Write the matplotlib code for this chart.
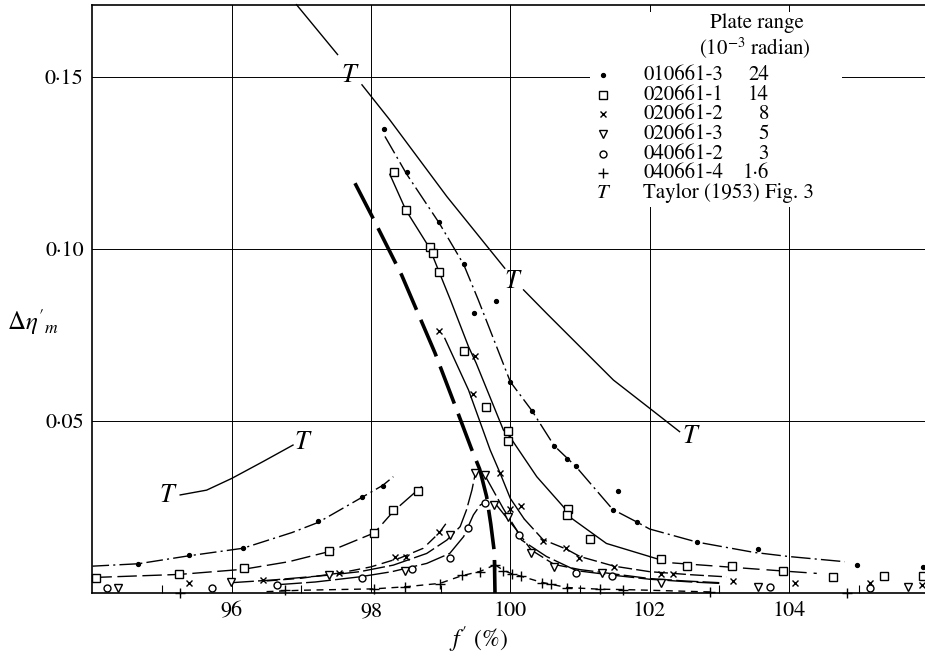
import matplotlib.pyplot as plt
from matplotlib.patches import Rectangle
from matplotlib.lines import Line2D

plt.rcParams['font.family'] = 'STIXGeneral'
plt.rcParams['mathtext.fontset'] = 'stix'

# measured points, f' (%) against delta eta'_m
x_010661_3 = [94.66, 95.38, 96.16, 97.24, 97.87, 98.17, 98.19, 98.51, 98.98, 99.33, 99.48, 99.80,
              100.00, 100.31, 100.63, 100.81, 100.94, 101.47, 101.54, 101.82, 102.68, 103.56, 104.98, 105.92]
y_010661_3 = [0.0083, 0.0110, 0.0130, 0.0210, 0.0280, 0.0311, 0.1349, 0.1223, 0.1078, 0.0956, 0.0813, 0.0849,
              0.0614, 0.0530, 0.0428, 0.0389, 0.0370, 0.0241, 0.0297, 0.0206, 0.0148, 0.0128, 0.0081, 0.0075]

x_020661_1 = [94.05, 95.25, 96.17, 97.39, 98.05, 98.32, 98.68, 98.33, 98.50, 98.84, 98.89, 98.98, 99.34,
              99.65, 99.97, 99.97, 100.83, 100.82, 101.14, 102.16, 102.53, 103.19, 103.91, 104.64, 105.36, 105.92]
y_020661_1 = [0.0043, 0.0055, 0.0072, 0.0122, 0.0173, 0.0241, 0.0297, 0.1225, 0.1113, 0.1005, 0.0988, 0.0932, 0.0703,
              0.0540, 0.0471, 0.0443, 0.0244, 0.0227, 0.0158, 0.0100, 0.0079, 0.0079, 0.0064, 0.0047, 0.0050, 0.0050]

x_020661_2 = [95.38, 96.45, 97.54, 98.34, 98.50, 98.98, 98.98, 99.46, 99.49, 99.85, 100.00, 100.16, 100.47,
              100.80, 100.98, 101.49, 102.17, 102.34, 103.20, 104.09, 105.16, 105.91]
y_020661_2 = [0.0028, 0.0038, 0.0057, 0.0104, 0.0104, 0.0178, 0.0762, 0.0578, 0.0689, 0.0350, 0.0244, 0.0253, 0.0151,
              0.0130, 0.0103, 0.0075, 0.0055, 0.0055, 0.0036, 0.0028, 0.0028, 0.0023]

x_020661_3 = [94.37, 95.99, 97.40, 98.49, 99.13, 99.49, 99.64, 99.77, 99.96, 100.30, 100.63, 101.31, 102.17, 103.56, 105.71]
y_020661_3 = [0.0014, 0.0031, 0.0052, 0.0065, 0.0169, 0.0350, 0.0343, 0.0256, 0.0220, 0.0115, 0.0077, 0.0059, 0.0028, 0.0018, 0.0018]

x_040661_2 = [94.21, 95.71, 96.65, 97.87, 98.59, 99.14, 99.39, 99.64, 100.12, 100.95, 101.46, 103.73, 105.16]
y_040661_2 = [0.0014, 0.0015, 0.0023, 0.0043, 0.0069, 0.0103, 0.0188, 0.0263, 0.0169, 0.0057, 0.0049, 0.0018, 0.0015]

x_040661_4 = [95.26, 96.76, 98.04, 98.49, 98.99, 99.30, 99.57, 99.78, 99.90, 100.02, 100.15, 100.45, 100.59,
              100.81, 101.29, 101.62, 102.87, 104.83]
y_040661_4 = [0.0000, 0.0009, 0.0012, 0.0018, 0.0026, 0.0052, 0.0062, 0.0081, 0.0065, 0.0055, 0.0050, 0.0030, 0.0026,
              0.0014, 0.0011, 0.0010, 0.0003, 0.0001]

# faired curves through each run (left and right branches)
c1_left_x = [94.0, 94.66, 95.38, 96.16, 96.87, 97.24, 97.87, 98.17, 98.32]
c1_left_y = [0.0078, 0.0085, 0.0108, 0.0130, 0.0176, 0.0205, 0.0278, 0.0313, 0.0338]
c1_right_x = [98.2, 98.51, 98.98, 99.33, 99.54, 100.0, 100.31, 100.63, 100.94, 101.19, 101.47, 101.82, 102.0,
              102.68, 103.5, 104.0, 104.8]
c1_right_y = [0.1327, 0.1218, 0.1075, 0.0955, 0.0852, 0.0614, 0.0530, 0.0428, 0.0368, 0.0309, 0.0243, 0.0206, 0.0186,
              0.0148, 0.0118, 0.0106, 0.0091]

c2_left_x = [94.0, 95.25, 96.17, 96.82, 97.39, 98.05, 98.32, 98.73]
c2_left_y = [0.0045, 0.0054, 0.0069, 0.0091, 0.0120, 0.0175, 0.0237, 0.0310]
c2_right_x = [98.27, 98.50, 98.84, 98.98, 99.14, 99.40, 99.51, 99.90, 100.0, 100.38, 100.76, 100.88, 101.38, 102.0]
c2_right_y = [0.1217, 0.1113, 0.1003, 0.0932, 0.0852, 0.0716, 0.0668, 0.0474, 0.0452, 0.0338, 0.0251, 0.0217, 0.0144, 0.0106]
c2_tail_x = [102.0, 102.29, 103.1, 103.91, 104.4]
c2_tail_y = [0.0106, 0.0088, 0.0076, 0.0064, 0.0057]

c3_left_x = [96.5, 97.0, 97.55, 98.0, 98.42, 98.75, 98.98, 99.12]
c3_left_y = [0.0035, 0.0043, 0.0058, 0.0076, 0.0102, 0.0130, 0.0175, 0.0214]
c3_right_x = [99.06, 99.40, 99.71, 99.85, 100.0, 100.2]
c3_right_y = [0.0740, 0.0590, 0.0416, 0.0350, 0.0275, 0.0215]
c3_tail_x = [100.2, 100.47, 100.8, 101.0, 101.49, 102.0, 102.6, 103.1]
c3_tail_y = [0.0215, 0.0155, 0.0128, 0.0106, 0.0078, 0.0062, 0.0053, 0.0047]

c4_left_x = [96.0, 96.6, 97.40, 97.84, 98.32, 98.80, 99.09, 99.28, 99.37, 99.45, 99.50]
c4_left_y = [0.0030, 0.0038, 0.0052, 0.0062, 0.0081, 0.0115, 0.0154, 0.0193, 0.0241, 0.0300, 0.0350]
c4_right_x = [99.64, 99.9, 100.1, 100.3, 100.63, 101.0, 101.31, 102.0, 102.5, 103.0]
c4_right_y = [0.0340, 0.0245, 0.0180, 0.0125, 0.0083, 0.0068, 0.0060, 0.0042, 0.0035, 0.0030]

c5_left_x = [96.65, 97.2, 97.84, 98.3, 98.80, 99.13, 99.33, 99.47, 99.57, 99.64]
c5_left_y = [0.0024, 0.0032, 0.0047, 0.0062, 0.0086, 0.0115, 0.0164, 0.0227, 0.0256, 0.0263]
c5_right_x = [99.72, 99.80, 100.09, 100.16, 100.52, 100.95, 101.46, 102.0, 102.6, 103.0]
c5_right_y = [0.0264, 0.0256, 0.0183, 0.0154, 0.0106, 0.0065, 0.0052, 0.0040, 0.0032, 0.0028]

c6_left_x = [96.5, 97.0, 98.04, 98.49, 98.99, 99.30, 99.57, 99.78]
c6_left_y = [0.0004, 0.0008, 0.0012, 0.0018, 0.0028, 0.0050, 0.0063, 0.0082]
c6_right_x = [99.78, 99.90, 100.02, 100.15, 100.45, 100.81, 101.29, 101.62, 102.0, 102.87]
c6_right_y = [0.0082, 0.0066, 0.0056, 0.0049, 0.0031, 0.0016, 0.0011, 0.0010, 0.0008, 0.0003]

# heavy dashed line
heavy_x = [97.77, 98.03, 98.44, 98.92, 99.25, 99.44, 99.56, 99.66, 99.72, 99.77, 99.78]
heavy_y = [0.1191, 0.1089, 0.0924, 0.0697, 0.0522, 0.0420, 0.0360, 0.0280, 0.0200, 0.0120, 0.0000]

# Taylor (1953) curves
t1a_x = [96.93, 97.52]
t1a_y = [0.1710, 0.1565]
t1b_x = [97.87, 98.27, 99.09, 99.92]
t1b_y = [0.1477, 0.1375, 0.1152, 0.0944]
t2_x = [100.19, 100.52, 101.0, 101.48, 102.0, 102.43]
t2_y = [0.0881, 0.0813, 0.0716, 0.0619, 0.0537, 0.0469]
t3_x = [95.26, 95.64, 96.0, 96.45, 96.88]
t3_y = [0.0285, 0.0299, 0.0333, 0.0382, 0.0430]
t_label_x = [97.68, 100.02, 102.58, 95.07, 97.0]
t_label_y = [0.1505, 0.0905, 0.0453, 0.0282, 0.0436]

x_ticks = [96, 98, 100, 102, 104]
y_ticks = [0.05, 0.10, 0.15]
y_tick_labels = ['0·05', '0·10', '0·15']

runs = ['010661-3', '020661-1', '020661-2', '020661-3', '040661-2', '040661-4']
plate_range = ['24', '14', '8', '5', '3', '1·6']

W, H = 925, 656
fig = plt.figure(figsize=(W / 100, H / 100), dpi=100)
ax = fig.add_axes([92 / W, 1 - 593 / H, (W - 92) / W, (593 - 5) / H])
ax.set_xlim(93.994, 105.954)
ax.set_ylim(0, 0.1709)

ax.set_xticks(x_ticks)
ax.set_yticks(y_ticks)
ax.set_yticklabels(y_tick_labels)
ax.set_xticks([95, 97, 99, 101, 103, 105], minor=True)
ax.tick_params(which='major', length=0, labelsize=16, pad=6)
ax.tick_params(axis='x', which='minor', direction='in', length=6, width=0.8)
ax.grid(True, color='black', lw=0.7)
ax.set_axisbelow(True)
for s in ['left', 'top', 'bottom']:
    ax.spines[s].set_linewidth(1.2)
ax.spines['right'].set_visible(False)

# white block behind the key
ax.add_patch(Rectangle((590 / W, 1 - 207 / H), 252 / W, 195 / H, transform=fig.transFigure,
                       facecolor='white', edgecolor='none', zorder=1))

k = dict(color='black', lw=1.0)
ax.plot(c1_left_x, c1_left_y, ls=(0, (12, 3, 1.5, 3)), **k)
ax.plot(c1_right_x, c1_right_y, ls=(0, (14, 3, 1.5, 3)), **k)
ax.plot(c2_left_x, c2_left_y, ls=(0, (14, 4)), **k)
ax.plot(c2_right_x, c2_right_y, ls='-', **k)
ax.plot(c2_tail_x, c2_tail_y, ls=(0, (12, 5)), **k)
ax.plot(c3_left_x, c3_left_y, ls=(0, (8, 4)), **k)
ax.plot(c3_right_x, c3_right_y, ls='-', **k)
ax.plot(c3_tail_x, c3_tail_y, ls=(0, (10, 3)), **k)
ax.plot(c4_left_x, c4_left_y, ls=(0, (16, 3)), **k)
ax.plot(c4_right_x, c4_right_y, ls=(0, (16, 3)), **k)
ax.plot(c5_left_x, c5_left_y, ls=(0, (18, 3)), **k)
ax.plot(c5_right_x, c5_right_y, ls=(0, (18, 3)), **k)
ax.plot(c6_left_x, c6_left_y, ls=(0, (5, 4)), **k)
ax.plot(c6_right_x, c6_right_y, ls=(0, (5, 4)), **k)
ax.plot(heavy_x, heavy_y, color='black', lw=2.6, ls=(0, (11, 3)), solid_capstyle='butt')

for tx, ty in [(t1a_x, t1a_y), (t1b_x, t1b_y), (t2_x, t2_y), (t3_x, t3_y)]:
    ax.plot(tx, ty, color='black', lw=1.0, clip_on=False)
for lx, ly in zip(t_label_x, t_label_y):
    ax.text(lx, ly, 'T', style='italic', fontsize=19, ha='center', va='center')

m = dict(ls='none', color='black', clip_on=False, zorder=3)
ax.plot(x_010661_3, y_010661_3, marker='o', ms=2.8, **m)
ax.plot(x_020661_1, y_020661_1, marker='s', ms=6, mfc='white', mew=1.0, **m)
ax.plot(x_020661_2, y_020661_2, marker='x', ms=5, mew=1.0, **m)
ax.plot(x_020661_3, y_020661_3, marker='v', ms=6, mfc='white', mew=1.0, **m)
ax.plot(x_040661_2, y_040661_2, marker='o', ms=5, mfc='white', mew=1.0, **m)
ax.plot(x_040661_4, y_040661_4, marker='+', ms=7, mew=1.0, **m)

# key
fig.text(757 / W, 1 - 23 / H, 'Plate range', fontsize=15, ha='center', va='center')
fig.text(755 / W, 1 - 48 / H, '(10$^{-3}$ radian)', fontsize=15, ha='center', va='center')
key_markers = [dict(marker='o', ms=2.8), dict(marker='s', ms=6, mfc='white'),
               dict(marker='x', ms=5), dict(marker='v', ms=6, mfc='white'),
               dict(marker='o', ms=5, mfc='white'), dict(marker='+', ms=7)]
for i, (run, pr, km) in enumerate(zip(runs, plate_range, key_markers)):
    yy = 1 - (75 + i * 19.7) / H
    fig.add_artist(Line2D([603 / W], [yy], color='black', mew=1.0, ls='none', **km))
    fig.text(643 / W, yy, run, fontsize=15, ha='left', va='center')
    fig.text(769 / W, yy, pr, fontsize=15, ha='right', va='center')
yy = 1 - (75 + 6 * 19.7) / H
fig.text(603 / W, yy, 'T', style='italic', fontsize=15, ha='center', va='center')
fig.text(643 / W, yy, 'Taylor (1953) Fig. 3', fontsize=15, ha='left', va='center')

fig.text(478 / W, 1 - 640 / H, "$f'$ (%)", fontsize=17, ha='center', va='center')
fig.text(33 / W, 1 - 322 / H, r"$\Delta\eta'_m$", fontsize=18, ha='center', va='center')

fig.savefig('out.png', dpi=100)
